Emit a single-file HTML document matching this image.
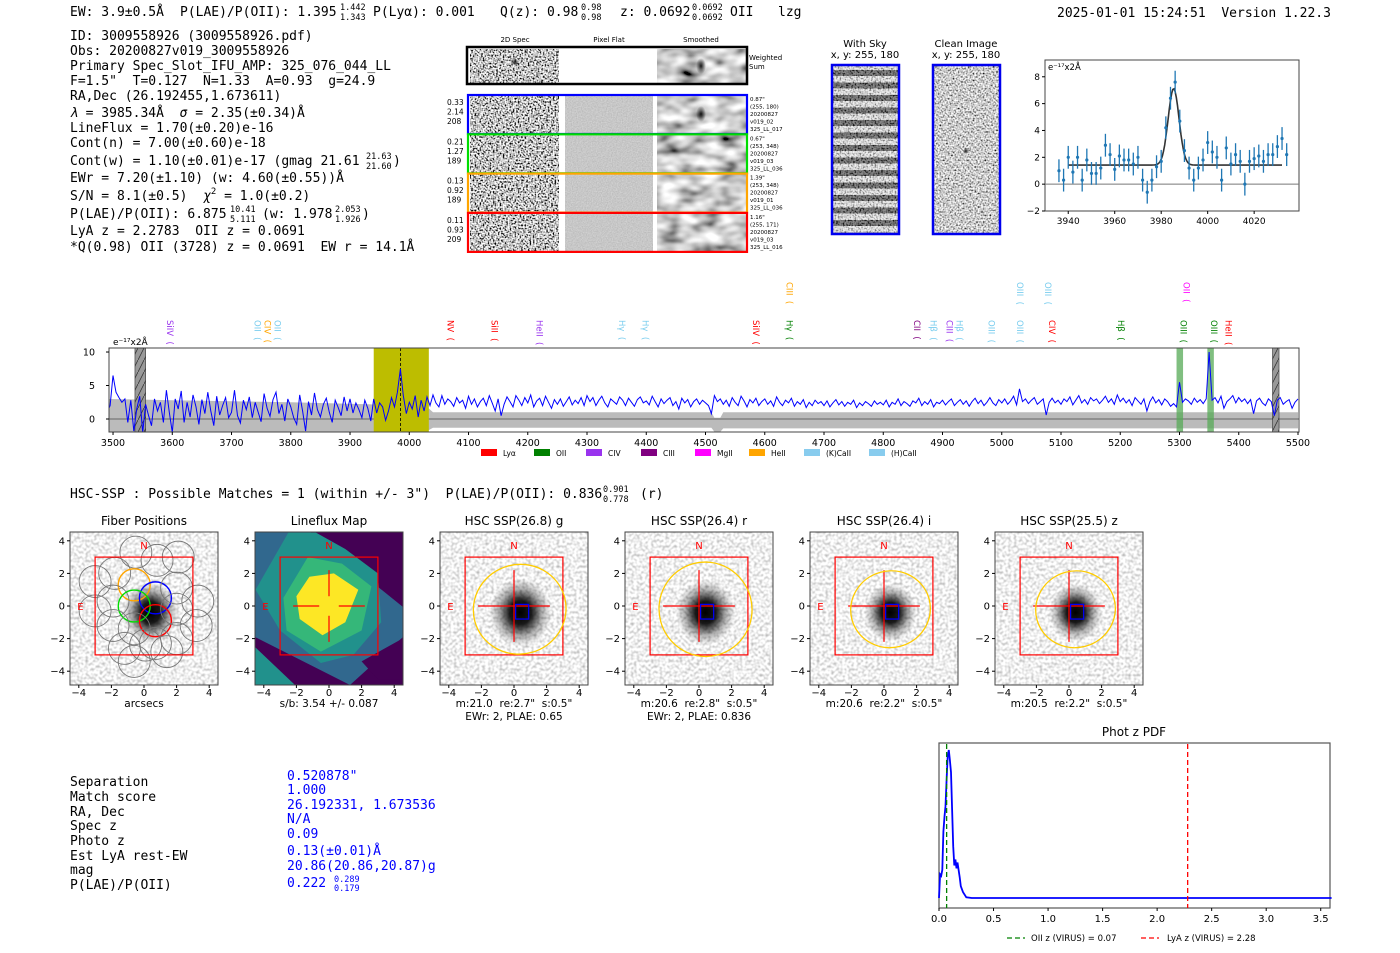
<!DOCTYPE html>
<html><head><meta charset="utf-8">
<style>
html,body{margin:0;padding:0;background:#fff;}
svg{display:block;}
#fig{font-size:13px;fill:#000;}
text{white-space:pre;}
.m{font-family:"DejaVu Sans Mono","Liberation Mono",monospace;}
.s{font-family:"DejaVu Sans","Liberation Sans",sans-serif;}
.b{fill:#0000ff;}
</style></head>
<body>
<svg id="fig" width="1400" height="953" viewBox="0 0 1400 953" xmlns="http://www.w3.org/2000/svg">
<defs>
  <filter id="nHi" x="0" y="0" width="100%" height="100%">
    <feTurbulence type="fractalNoise" baseFrequency="0.6" numOctaves="1" seed="3"/>
    <feColorMatrix type="matrix" values="3.2 0 0 0 -1.05  3.2 0 0 0 -1.05  3.2 0 0 0 -1.05  0 0 0 0 1"/>
  </filter>
  <filter id="nMid" x="0" y="0" width="100%" height="100%">
    <feTurbulence type="fractalNoise" baseFrequency="0.6" numOctaves="1" seed="7"/>
    <feColorMatrix type="matrix" values="2.2 0 0 0 -0.5  2.2 0 0 0 -0.5  2.2 0 0 0 -0.5  0 0 0 0 1"/>
  </filter>
  <filter id="nLo" x="0" y="0" width="100%" height="100%">
    <feTurbulence type="fractalNoise" baseFrequency="0.35" numOctaves="1" seed="11"/>
    <feColorMatrix type="matrix" values="1.2 0 0 0 0.27  1.2 0 0 0 0.27  1.2 0 0 0 0.27  0 0 0 0 1"/>
  </filter>
  <filter id="nSmooth" x="0" y="0" width="100%" height="100%">
    <feTurbulence type="fractalNoise" baseFrequency="0.05 0.09" numOctaves="2" seed="5"/>
    <feColorMatrix type="matrix" values="1.6 0 0 0 -0.2  1.6 0 0 0 -0.2  1.6 0 0 0 -0.2  0 0 0 0 1"/>
  </filter>
  <filter id="nFlat" x="0" y="0" width="100%" height="100%">
    <feTurbulence type="fractalNoise" baseFrequency="0.8" numOctaves="1" seed="2"/>
    <feColorMatrix type="matrix" values="0.3 0 0 0 0.42  0.3 0 0 0 0.42  0.3 0 0 0 0.42  0 0 0 0 1"/>
  </filter>
  <pattern id="stripes" x="832" y="65" width="67" height="12.5" patternUnits="userSpaceOnUse">
    <rect width="67" height="12.5" fill="#e4e4e4"/>
    <rect y="5" width="67" height="6" fill="#2a2a2a"/>
  </pattern>
  <radialGradient id="blob" cx="50%" cy="50%" r="50%">
    <stop offset="0" stop-color="#000" stop-opacity="1"/>
    <stop offset="0.35" stop-color="#000" stop-opacity="0.9"/>
    <stop offset="0.7" stop-color="#000" stop-opacity="0.3"/>
    <stop offset="1" stop-color="#000" stop-opacity="0"/>
  </radialGradient>
  <radialGradient id="dot" cx="50%" cy="50%" r="50%">
    <stop offset="0" stop-color="#000" stop-opacity="0.9"/>
    <stop offset="1" stop-color="#000" stop-opacity="0"/>
  </radialGradient>
  <pattern id="hatch" width="6" height="12" patternUnits="userSpaceOnUse">
    <rect width="6" height="12" fill="#999"/>
    <line x1="0" y1="12" x2="6" y2="0" stroke="#333" stroke-width="0.8"/>
  </pattern>
</defs>

<!-- top header -->
<g>
  <text class="m" x="70" y="16">EW: 3.9±0.5Å</text>
  <text class="m" x="180" y="16">P(LAE)/P(OII): 1.395</text>
  <text class="m" x="340" y="10" font-size="8.5">1.442</text>
  <text class="m" x="340" y="20" font-size="8.5">1.343</text>
  <text class="m" x="373" y="16">P(Lyα): 0.001</text>
  <text class="m" x="500" y="16">Q(z): 0.98</text>
  <text class="m" x="581" y="10" font-size="8.5">0.98</text>
  <text class="m" x="581" y="20" font-size="8.5">0.98</text>
  <text class="m" x="620" y="16">z: 0.0692</text>
  <text class="m" x="692" y="10" font-size="8.5">0.0692</text>
  <text class="m" x="692" y="20" font-size="8.5">0.0692</text>
  <text class="m" x="730" y="16">OII</text>
  <text class="m" x="778" y="16">lzg</text>
  <text class="m" x="1057" y="17">2025-01-01 15:24:51  Version 1.22.3</text>
</g>

<!-- left info block -->
<g>
  <text class="m" x="70" y="40">ID: 3009558926 (3009558926.pdf)</text>
  <text class="m" x="70" y="55">Obs: 20200827v019_3009558926</text>
  <text class="m" x="70" y="70">Primary Spec_Slot_IFU_AMP: 325_076_044_LL</text>
  <text class="m" x="70" y="85">F=1.5"  T=0.127  N=1.33  A=0.93  g=24.9</text>
  <text class="m" x="70" y="100">RA,Dec (26.192455,1.673611)</text>
  <text class="m" x="70" y="117"><tspan font-style="italic">λ</tspan> = 3985.34Å  <tspan font-style="italic">σ</tspan> = 2.35(±0.34)Å</text>
  <text class="m" x="70" y="132">LineFlux = 1.70(±0.20)e-16</text>
  <text class="m" x="70" y="147">Cont(n) = 7.00(±0.60)e-18</text>
  <text class="m" x="70" y="165">Cont(w) = 1.10(±0.01)e-17 (gmag 21.61</text>
  <text class="m" x="366" y="159" font-size="8.5">21.63</text>
  <text class="m" x="366" y="169" font-size="8.5">21.60</text>
  <text class="m" x="393" y="165">)</text>
  <text class="m" x="70" y="182">EWr = 7.20(±1.10) (w: 4.60(±0.55))Å</text>
  <text class="m" x="70" y="200">S/N = 8.1(±0.5)  <tspan font-style="italic">χ</tspan><tspan font-size="9" dy="-6">2</tspan><tspan dy="6"> = 1.0(±0.2)</tspan></text>
  <text class="m" x="70" y="218">P(LAE)/P(OII): 6.875</text>
  <text class="m" x="230" y="212" font-size="8.5">10.41</text>
  <text class="m" x="230" y="222" font-size="8.5">5.111</text>
  <text class="m" x="262" y="218">(w: 1.978</text>
  <text class="m" x="335" y="212" font-size="8.5">2.053</text>
  <text class="m" x="335" y="222" font-size="8.5">1.926</text>
  <text class="m" x="362" y="218">)</text>
  <text class="m" x="70" y="235">LyA z = 2.2783  OII z = 0.0691</text>
  <text class="m" x="70" y="251">*Q(0.98) OII (3728) z = 0.0691  EW r = 14.1Å</text>
</g>

<!-- 2D spectra -->
<g id="spec2d">
  <text class="s" x="515" y="42" font-size="7" text-anchor="middle">2D Spec</text>
  <text class="s" x="609" y="42" font-size="7" text-anchor="middle">Pixel Flat</text>
  <text class="s" x="701" y="42" font-size="7" text-anchor="middle">Smoothed</text>
  <rect x="470" y="49" width="89" height="34" filter="url(#nHi)"/>
  <circle cx="515" cy="62" r="4" fill="url(#dot)"/>
  <rect x="657" y="49" width="89" height="34" filter="url(#nSmooth)"/>
  <ellipse cx="701" cy="66" rx="5" ry="8" fill="url(#dot)"/>
  <rect x="467" y="47" width="280" height="37" fill="none" stroke="#000" stroke-width="2.5"/>
  <text class="s" x="749" y="60" font-size="7">Weighted</text>
  <text class="s" x="749" y="69" font-size="7">Sum</text>
</g>

<!-- with sky / clean -->
<g>
  <text class="s" x="865" y="47" font-size="10" text-anchor="middle">With Sky</text>
  <text class="s" x="865" y="58" font-size="10" text-anchor="middle">x, y: 255, 180</text>
  <rect x="832" y="65" width="67" height="169" fill="url(#stripes)"/>
  <rect x="832" y="65" width="67" height="169" filter="url(#nHi)" opacity="0.45"/>
  <rect x="832" y="65" width="67" height="169" fill="none" stroke="#0000ee" stroke-width="2.5"/>
  <text class="s" x="966" y="47" font-size="10" text-anchor="middle">Clean Image</text>
  <text class="s" x="966" y="58" font-size="10" text-anchor="middle">x, y: 255, 180</text>
  <rect x="933" y="65" width="67" height="169" filter="url(#nMid)"/>
  <circle cx="966" cy="151" r="3" fill="url(#dot)"/>
  <rect x="933" y="65" width="67" height="169" fill="none" stroke="#0000ee" stroke-width="2.5"/>
</g>

<g id="zoomplot"></g>
<g id="mainspec"></g>

<text class="m" x="70" y="498">HSC-SSP : Possible Matches = 1 (within +/- 3")  P(LAE)/P(OII): 0.836</text>
<text class="m" x="603" y="492" font-size="8.5">0.901</text>
<text class="m" x="603" y="502" font-size="8.5">0.778</text>
<text class="m" x="640" y="498">(r)</text>

<g id="cutouts"></g>

<!-- bottom table -->
<g>
  <text class="m" x="70" y="786">Separation</text>
  <text class="m" x="70" y="801">Match score</text>
  <text class="m" x="70" y="816">RA, Dec</text>
  <text class="m" x="70" y="830">Spec z</text>
  <text class="m" x="70" y="845">Photo z</text>
  <text class="m" x="70" y="860">Est LyA rest-EW</text>
  <text class="m" x="70" y="874">mag</text>
  <text class="m" x="70" y="889">P(LAE)/P(OII)</text>
  <text class="m b" x="287" y="780">0.520878"</text>
  <text class="m b" x="287" y="794">1.000</text>
  <text class="m b" x="287" y="809">26.192331, 1.673536</text>
  <text class="m b" x="287" y="823">N/A</text>
  <text class="m b" x="287" y="838">0.09</text>
  <text class="m b" x="287" y="855">0.13(±0.01)Å</text>
  <text class="m b" x="287" y="870">20.86(20.86,20.87)g</text>
  <text class="m b" x="287" y="887">0.222</text>
  <text class="m b" x="334" y="882" font-size="8.5">0.289</text>
  <text class="m b" x="334" y="891" font-size="8.5">0.179</text>
</g>

<g id="pdfplot"></g>
</svg>

<script>
// ================= DATA =================
const specStart = 3490;
const specStep = 5;
const specFlux = [
1.0,2.0,
6.5,4.0,3.2,2.5,3.0,-0.5,2.8,-1.8,1.5,3.4,-2.0,2.2,0.5,-1.0,3.0,1.2,2.5,-0.5,4.3,1.0,
-2.0,3.0,1.5,4.2,-0.5,2.5,0.3,3.6,1.8,-0.8,2.9,0.8,4.0,1.2,-1.0,3.4,0.6,2.0,3.2,0.2,
1.0,4.3,0.5,-0.6,2.8,1.4,3.3,0.2,2.5,1.0,-0.4,3.8,1.6,0.4,2.9,4.0,0.8,2.2,-0.3,3.0,
1.8,0.2,-0.8,3.6,1.2,-1.8,2.6,0.6,3.9,1.4,0.3,2.2,3.1,1.0,-0.5,2.8,1.7,0.5,3.3,1.2,
3.0,0.9,2.4,1.4,0.2,2.8,1.6,-0.3,3.0,0.9,2.4,1.8,-0.2,1.2,3.2,1.8,4.0,7.5,3.5,0.8,
2.5,1.5,3.5,0.3,2.8,1.2,3.3,2.0,3.6,2.4,1.8,3.5,2.2,3.0,2.6,1.9,3.2,2.4,2.8,1.6,
3.4,2.2,3.0,1.8,2.6,3.1,2.0,3.5,2.4,1.2,3.0,0.5,2.2,3.3,2.6,1.8,3.5,2.8,2.0,3.2,
2.4,3.6,1.8,2.7,3.1,2.0,3.4,2.5,1.6,2.9,2.2,3.0,1.9,2.6,3.3,2.1,2.8,2.3,3.2,2.0,
3.5,2.6,3.2,2.0,2.8,3.4,2.4,1.8,3.0,2.6,2.2,3.3,2.8,2.0,3.1,2.5,1.9,2.9,3.3,2.4,
2.7,2.1,3.4,2.6,1.8,3.0,2.3,2.8,3.2,2.0,2.6,1.5,3.1,2.4,2.9,1.8,2.6,3.0,2.2,2.8,
2.4,2.0,0.8,3.5,2.6,3.0,2.2,2.8,1.9,3.2,2.5,2.0,3.4,2.7,1.8,2.9,2.4,3.1,2.0,2.6,
3.0,2.2,2.7,1.9,3.3,2.5,2.0,2.8,2.4,3.1,1.9,2.6,2.2,2.9,1.7,2.5,2.0,2.8,2.3,2.6,
2.0,2.7,1.8,2.4,2.9,2.1,2.6,1.9,2.5,2.2,2.8,1.7,2.4,2.0,2.6,2.3,1.9,2.7,2.2,2.5,
2.1,2.8,1.8,2.5,2.2,3.0,2.0,2.6,2.3,1.9,2.7,2.4,3.1,2.0,2.6,2.2,2.9,1.8,2.5,2.3,
2.8,2.1,2.6,3.0,2.0,2.5,2.9,2.2,2.7,1.9,2.6,3.1,2.3,2.8,2.0,2.5,3.2,2.4,2.0,2.9,
2.4,3.0,2.2,2.7,3.4,2.1,4.5,2.6,3.0,2.3,2.8,3.2,2.2,2.6,3.0,0.6,2.5,3.1,2.4,2.8,
2.2,3.0,2.6,3.3,2.1,2.8,3.5,2.4,2.9,2.2,3.2,2.7,3.0,2.3,2.8,3.4,2.5,3.0,2.2,3.6,
2.6,3.1,2.4,2.9,2.0,3.2,2.7,2.2,3.0,1.2,2.6,3.3,2.4,2.9,2.1,3.0,2.6,1.9,2.3,1.8,
5.5,2.5,3.0,2.7,2.2,3.1,2.5,2.9,2.3,3.0,10.0,2.8,3.2,2.4,3.4,1.6,2.6,3.0,3.5,2.4,
3.2,2.6,3.0,2.3,2.9,0.8,2.7,3.1,2.4,2.0,3.0,2.6,0.5,2.8,3.2,2.2,2.6,2.9,1.6,2.5,
3.0];
const errWl = [3490,3600,3800,3930,4030,4040,4510,4515,4525,4530,5500];
const errHi = [3.0,2.8,2.5,2.2,1.8,1.0,1.0,0.2,0.2,1.0,1.0];
const errLo = [-1.9,-1.9,-1.9,-1.9,-1.8,-1.3,-1.3,-1.9,-1.9,-1.4,-1.4];
const specXTicks = [3500,3600,3700,3800,3900,4000,4100,4200,4300,4400,4500,4600,4700,4800,4900,5000,5100,5200,5300,5400,5500];
const specYTicks = [0,5,10];
const lineWl = [3596,3744,3761,3778,4070,4144,4220,4359,4399,4585,4642,4642,4857,4885,4912,4929,4983,5031,5031,5078,5085,5201,5307,5312,5358,5383];
const lineName = ["SiIV","OII","CIV","OII","NV","SiII","HeII","Hγ","Hγ","SiIV","CIII","Hγ","CII","Hβ","CIII","Hβ","OIII","OIII","OIII","OIII","CIV","Hβ","OIII","OII","OIII","HeII"];
const lineColor = ["#9933ee","#77ccee","#ffa500","#77ccee","#ff0000","#ff0000","#9933ee","#77ccee","#77ccee","#ff0000","#ffa500","#008000","#800080","#77ccee","#9933ee","#77ccee","#77ccee","#77ccee","#77ccee","#77ccee","#ff0000","#008000","#008000","#ff00ff","#008000","#ff0000"];
const lineRow = [0,0,0,0,0,0,0,0,0,0,1,0,0,0,0,0,0,0,1,1,0,0,0,1,0,0];
const legendNames = ["Lyα","OII","CIV","CIII","MgII","HeII","(K)CaII","(H)CaII"];
const legendColors = ["#ff0000","#008000","#9933ee","#800080","#ff00ff","#ffa500","#88ccee","#88ccee"];

const zWl = [3936,3938,3940,3942,3944,3946,3948,3950,3952,3954,3956,3958,3960,3962,3964,3966,3968,3970,3972,3974,3976,3978,3980,3982,3984,3986,3988,3990,3992,3994,3996,3998,4000,4002,4004,4006,4008,4010,4012,4014,4016,4018,4020,4022,4024,4026,4028,4030,4032,4034];
const zFlux = [1.0,0.3,2.0,0.9,2.0,0.3,1.8,0.8,0.8,1.2,2.9,2.2,1.1,2.1,1.8,1.8,1.5,2.0,0.3,-0.6,0.3,1.3,1.7,4.2,6.4,7.6,4.7,2.5,1.2,0.3,1.2,1.8,3.1,2.4,2.0,0.3,2.7,1.5,2.2,1.7,0.0,1.7,1.9,2.1,1.7,2.2,2.2,2.8,3.4,2.2];
const zErr = 0.85;
const fitCont = 1.42, fitAmp = 5.7, fitMu = 3985.34, fitSigma = 2.35;
const zXTicks = [3940,3960,3980,4000,4020];
const zYTicks = [-2,0,2,4,6,8];

const pdfZ = [0,0.01,0.02,0.03,0.04,0.05,0.06,0.07,0.08,0.09,0.1,0.11,0.12,0.13,0.14,0.15,0.16,0.17,0.18,0.19,0.2,0.22,0.25,0.3,1.0,2.0,3.0,3.6];
const pdfP = [0.0,0.16,0.15,0.19,0.45,0.55,0.62,0.8,0.96,1.0,0.93,0.85,0.6,0.35,0.22,0.26,0.2,0.24,0.19,0.14,0.08,0.04,0.005,0.0,0.0,0.0,0.0,0.0];
const pdfTicks = [0.0,0.5,1.0,1.5,2.0,2.5,3.0,3.5];
const oiiZ = 0.07, lyaZ = 2.28;

const rowColors = ["#0000ff","#00dd00","#ffa500","#ff0000"];
const rowNums = [["0.33","2.14","208"],["0.21","1.27","189"],["0.13","0.92","189"],["0.11","0.93","209"]];
const rowInfo = [["0.87\"","(255, 180)","20200827","v019_02","325_LL_017"],["0.67\"","(253, 348)","20200827","v019_03","325_LL_036"],["1.39\"","(253, 348)","20200827","v019_01","325_LL_036"],["1.16\"","(255, 171)","20200827","v019_03","325_LL_016"]];

const cutTitles = ["Fiber Positions","Lineflux Map","HSC SSP(26.8) g","HSC SSP(26.4) r","HSC SSP(26.4) i","HSC SSP(25.5) z"];
const cutSub1 = ["arcsecs","s/b: 3.54 +/- 0.087","m:21.0  re:2.7\"  s:0.5\"","m:20.6  re:2.8\"  s:0.5\"","m:20.6  re:2.2\"  s:0.5\"","m:20.5  re:2.2\"  s:0.5\""];
const cutSub2 = ["","","EWr: 2, PLAE: 0.65","EWr: 2, PLAE: 0.836","",""];
const blobSize = [1.7,0,1.9,1.8,1.6,1.6];
const ellCx = [0,0,0.35,0.4,0.4,0.4];
const ellCy = [0,0,-0.2,-0.2,-0.2,-0.2];
const ellRx = [0,0,2.85,2.85,2.45,2.45];
const ellRy = [0,0,2.75,2.9,2.35,2.35];
const cutTicks = [-4,-2,0,2,4];
const fiberX = [-0.5,0.8,2.1,-1.8,-0.6,0.7,2.0,3.3,-3.0,-1.9,-0.6,0.7,2.0,3.2,-1.9,-0.6,0.7,2.0,-1.2,0.1,1.4,-0.6,-3.0];
const fiberY = [3.3,2.8,3.0,2.0,1.3,0.5,1.1,0.3,1.5,0.3,0.0,-0.9,-0.2,-1.2,-1.2,-1.4,-2.3,-2.0,-2.6,-2.4,-2.8,-3.4,-0.3];
const fiberCol = ["#777","#777","#777","#777","#ffa500","#0000ff","#777","#777","#777","#777","#00dd00","#ff0000","#777","#777","#777","#777","#777","#777","#777","#777","#777","#777","#777"];

// ================= HELPERS =================
const NS = "http://www.w3.org/2000/svg";
function mk(parent, tag, attrs, text){
  const e = document.createElementNS(NS, tag);
  for (const k in attrs) e.setAttribute(k, attrs[k]);
  if (text !== undefined) e.textContent = text;
  parent.appendChild(e);
  return e;
}
let el;

// ================= 2D SPEC ROWS =================
const s2 = document.getElementById('spec2d');
rowColors.forEach((c, i) => {
  const y0 = 95 + i*39.3;
  el = mk(s2, 'rect', {x:470, y:y0+1, width:89, height:37, filter:'url(#nHi)'});
  
  
  el = mk(s2, 'rect', {x:565, y:y0+1, width:88, height:37, filter:'url(#nFlat)'});
  
  
  el = mk(s2, 'rect', {x:657, y:y0+1, width:89, height:37, filter:'url(#nSmooth)'});
  
  
  if (i === 0) { mk(s2, 'ellipse', {cx:701, cy:y0+19, rx:5, ry:8, fill:'url(#dot)'}); }
  el = mk(s2, 'rect', {x:468, y:y0, width:279, height:39, fill:'none', stroke:c, 'stroke-width':2.2});
  
  
  rowNums[i].forEach((t, j) => {
    el = mk(s2, 'text', {x:447, y:y0+10+j*9.5, class:'s', 'font-size':7.5}, t);
    
    
  });
  rowInfo[i].forEach((t, j) => {
    el = mk(s2, 'text', {x:750, y:y0+6+j*7.5, class:'s', 'font-size':5.5}, t);
    
    
  });
});

// ================= ZOOM PLOT =================
const zp = document.getElementById('zoomplot');
const zL = 1045, zR = 1299, zT = 60, zB = 211;
const zx0 = 3930, zx1 = 4039.3, zy0 = -2, zy1 = 9.25;
const zX = v => zL + (v - zx0) / (zx1 - zx0) * (zR - zL);
const zY = v => zB - (v - zy0) / (zy1 - zy0) * (zB - zT);
el = mk(zp, 'rect', {x:zL, y:zT, width:zR-zL, height:zB-zT, fill:'#fff', stroke:'#444', 'stroke-width':1});


el = mk(zp, 'line', {x1:zL, x2:zR, y1:zY(0), y2:zY(0), stroke:'#777', 'stroke-width':1});


zXTicks.forEach(t => {
  mk(zp, 'line', {x1:zX(t), x2:zX(t), y1:zB, y2:zB+3, stroke:'#000'});
  el = mk(zp, 'text', {x:zX(t), y:zB+13, class:'s', 'font-size':9, 'text-anchor':'middle'}, t);
  
  
});
zYTicks.forEach(t => {
  mk(zp, 'line', {x1:zL-3, x2:zL, y1:zY(t), y2:zY(t), stroke:'#000'});
  el = mk(zp, 'text', {x:zL-5, y:zY(t)+3, class:'s', 'font-size':9, 'text-anchor':'end'}, t < 0 ? '−' + (-t) : t);
  
  
});
el = mk(zp, 'text', {x:zL+3, y:zT+10, class:'s', 'font-size':8.5}, 'e⁻¹⁷x2Å');


let fd = '';
for (let w = 3940; w <= 4032; w += 0.5) {
  const f = fitCont + fitAmp * Math.exp(-0.5 * Math.pow((w - fitMu) / fitSigma, 2));
  fd += (fd ? 'L' : 'M') + zX(w).toFixed(1) + ' ' + zY(f).toFixed(1);
}
el = mk(zp, 'path', {d:fd, fill:'none', stroke:'#333', 'stroke-width':1.6});


zWl.forEach((w, i) => {
  el = mk(zp, 'line', {x1:zX(w), x2:zX(w), y1:zY(zFlux[i]-zErr), y2:zY(zFlux[i]+zErr), stroke:'#1f77b4', 'stroke-width':1.3});
  
  
  el = mk(zp, 'circle', {cx:zX(w), cy:zY(zFlux[i]), r:1.6, fill:'#1f77b4'});
  
  
});

// ================= MAIN SPECTRUM =================
const ms = document.getElementById('mainspec');
const mL = 109, mR = 1299, mT = 348, mB = 432;
const mx0 = 3493.2, mx1 = 5501.7, my0 = -1.94, my1 = 10.6;
const mX = v => mL + (v - mx0) / (mx1 - mx0) * (mR - mL);
const mY = v => mB - (v - my0) / (my1 - my0) * (mB - mT);
mk(ms, 'clipPath', {id:'mclip'});
mk(document.getElementById('mclip'), 'rect', {x:mL, y:mT, width:mR-mL, height:mB-mT});
const mg = mk(ms, 'g', {'clip-path':'url(#mclip)'});
let ed = '';
errWl.forEach((w, i) => { ed += (i ? 'L' : 'M') + mX(w).toFixed(1) + ' ' + mY(errHi[i]).toFixed(1); });
for (let i = errWl.length - 1; i >= 0; i--) ed += 'L' + mX(errWl[i]).toFixed(1) + ' ' + mY(errLo[i]).toFixed(1);
el = mk(mg, 'path', {d:ed+'Z', fill:'#bbbbbb'});


el = mk(mg, 'line', {x1:mL, x2:mR, y1:mY(0), y2:mY(0), stroke:'#666', 'stroke-width':1});


el = mk(mg, 'rect', {x:mX(3940), y:mT, width:mX(4033)-mX(3940), height:mB-mT, fill:'#bdbd00'});


[[3537,3555],[5457,5468]].forEach(b => {
  el = mk(mg, 'rect', {x:mX(b[0]), y:mT, width:mX(b[1])-mX(b[0]), height:mB-mT, fill:'url(#hatch)', stroke:'#333', 'stroke-width':0.6});
  
  
});
[[5295,5306],[5347,5358]].forEach(b => {
  el = mk(mg, 'rect', {x:mX(b[0]), y:mT, width:mX(b[1])-mX(b[0]), height:mB-mT, fill:'#55aa55', opacity:0.75});
  
  
});
el = mk(mg, 'line', {x1:mX(3985.3), x2:mX(3985.3), y1:mT, y2:mB, stroke:'#000', 'stroke-dasharray':'3,2', 'stroke-width':0.8});


let sd = '';
specFlux.forEach((f, i) => { sd += (i ? 'L' : 'M') + mX(specStart + i*specStep).toFixed(1) + ' ' + mY(f).toFixed(1); });
el = mk(mg, 'path', {d:sd, fill:'none', stroke:'#0000ff', 'stroke-width':1});


el = mk(ms, 'rect', {x:mL, y:mT, width:mR-mL, height:mB-mT, fill:'none', stroke:'#444', 'stroke-width':1});


specXTicks.forEach(t => {
  mk(ms, 'line', {x1:mX(t), x2:mX(t), y1:mB, y2:mB+3, stroke:'#000'});
  el = mk(ms, 'text', {x:mX(t), y:mB+14, class:'s', 'font-size':9.5, 'text-anchor':'middle'}, t);
  
  
});
specYTicks.forEach(t => {
  mk(ms, 'line', {x1:mL-3, x2:mL, y1:mY(t), y2:mY(t), stroke:'#000'});
  el = mk(ms, 'text', {x:mL-14, y:mY(t)+3.5, class:'s', 'font-size':9.5, 'text-anchor':'end'}, t);
  
  
});
el = mk(ms, 'text', {x:113, y:345, class:'s', 'font-size':9}, 'e⁻¹⁷x2Å');


lineWl.forEach((w, i) => {
  const x = mX(w), y = lineRow[i] ? 282 : 320;
  el = mk(ms, 'text', {x:0, y:0, class:'s', 'font-size':8.5, fill:lineColor[i], transform:'translate('+(x-3)+','+y+') rotate(90)'}, lineName[i] + '  (');
  
  
});
legendNames.forEach((n, i) => {
  const lx = [481,534,586,641,695,749,804,869][i];
  el = mk(ms, 'rect', {x:lx, y:449, width:16, height:7, fill:legendColors[i]});
  
  
  el = mk(ms, 'text', {x:lx+22, y:456, class:'s', 'font-size':7.5}, n);
  
  
});

// ================= CUTOUTS =================
const co = document.getElementById('cutouts');
const sc = 16.3;
cutTitles.forEach((title, i) => {
  const cx = 144 + 185*i, cy = 606;
  const L = cx - 74, T = 532, W = 148, H = 153;
  const P = u => cx + u*sc, Q = v => cy - v*sc;
  const g = mk(co, 'g', {});
  
  
  const cid = 'cc' + i;
  mk(g, 'clipPath', {id:cid});
  mk(document.getElementById(cid), 'rect', {x:L, y:T, width:W, height:H});
  const ig = mk(g, 'g', {'clip-path':'url(#'+cid+')'});
  const poly = pts => pts.map(p => p[0].toFixed(1)+','+p[1].toFixed(1)).join(' ');
  if (i === 1) {
    mk(ig, 'rect', {x:L, y:T, width:W, height:H, fill:'#440154'});
    mk(ig, 'polygon', {points:poly([[L,T],[L+55,T],[L+W,T+75],[L+W,T+105],[L+95,T+H],[L,T+105]]), fill:'#31688e'});
    mk(ig, 'polygon', {points:poly([[P(-2.5),Q(4.5)],[P(-0.8),Q(4.5)],[P(1),Q(3.5)],[P(3),Q(2)],[P(3.2),Q(-1)],[P(1.5),Q(-3)],[P(-0.5),Q(-3.5)],[P(-3),Q(-1.5)],[P(-4.5),Q(1)]]), fill:'#21918c'});
    mk(ig, 'polygon', {points:poly([[P(-1.3),Q(3)],[P(0.8),Q(2.6)],[P(2.6),Q(1.2)],[P(2),Q(-1.5)],[P(-0.5),Q(-2.8)],[P(-2.6),Q(-1.5)],[P(-2.8),Q(0.5)]]), fill:'#35b779'});
    mk(ig, 'polygon', {points:poly([[P(-1.2),Q(1.8)],[P(0.3),Q(2.0)],[P(1.8),Q(1.0)],[P(1.0),Q(-1.0)],[P(-0.4),Q(-1.8)],[P(-1.8),Q(-0.8)],[P(-2),Q(0.6)]]), fill:'#fde725'});
    mk(ig, 'polygon', {points:poly([[L,T+115],[L+40,T+H],[L,T+H]]), fill:'#21918c'});
    mk(ig, 'polygon', {points:poly([[P(2),Q(-3.4)],[P(4.5),Q(-2)],[P(4.5),Q(-4.5)],[P(3),Q(-4.5)]]), fill:'#440154'});
  } else {
    el = mk(ig, 'rect', {x:L, y:T, width:W, height:H, filter:'url(#nLo)'});
    
    
    const r = blobSize[i]*sc;
    el = mk(ig, 'ellipse', {cx:P(0.4), cy:Q(-0.4), rx:r, ry:r*1.1, fill:'url(#blob)'});
    
    
  }
  el = mk(g, 'rect', {x:L, y:T, width:W, height:H, fill:'none', stroke:'#444', 'stroke-width':1});
  
  
  if (i === 0) {
    fiberX.forEach((fx, k) => {
      el = mk(g, 'circle', {cx:P(fx), cy:Q(fiberY[k]), r:sc*0.98, fill:'none', stroke:fiberCol[k], 'stroke-width':fiberCol[k]==='#777'?0.9:1.4});
      
      
    });
  }
  el = mk(g, 'rect', {x:P(-3), y:Q(3), width:6*sc, height:6*sc, fill:'none', stroke:'#ff0000', 'stroke-width':1.2});
  
  
  if (i >= 1) {
    const gap = i === 1 ? 0.6 : 0;
    [[-2.2,-gap],[gap,2.2]].forEach(s => { mk(g, 'line', {x1:P(s[0]), x2:P(s[1]), y1:Q(0), y2:Q(0), stroke:'#ff0000', 'stroke-width':1.2}); });
    [[-2.2,-gap],[gap,2.2]].forEach(s => { mk(g, 'line', {x1:P(0), x2:P(0), y1:Q(s[0]), y2:Q(s[1]), stroke:'#ff0000', 'stroke-width':1.2}); });
  }
  if (i >= 2) {
    el = mk(g, 'ellipse', {cx:P(ellCx[i]), cy:Q(ellCy[i]), rx:ellRx[i]*sc, ry:ellRy[i]*sc, fill:'none', stroke:'#ffcc00', 'stroke-width':1.3, transform:'rotate(-15 '+P(ellCx[i])+' '+Q(ellCy[i])+')'});
    
    
    el = mk(g, 'rect', {x:P(0.1), y:Q(0.1), width:0.8*sc, height:0.9*sc, fill:'none', stroke:'#0000ff', 'stroke-width':1.2});
    
    
  }
  el = mk(g, 'text', {x:P(0), y:Q(3.75)+4, class:'s', 'font-size':10, fill:'#ff0000', 'text-anchor':'middle'}, 'N');
  
  
  el = mk(g, 'text', {x:P(-3.9), y:Q(0)+4, class:'s', 'font-size':10, fill:'#ff0000', 'text-anchor':'middle'}, 'E');
  
  
  el = mk(g, 'text', {x:cx, y:525, class:'s', 'font-size':12, 'text-anchor':'middle'}, title);
  
  
  cutTicks.forEach(t => {
    const lab = t < 0 ? '−' + (-t) : '' + t;
    mk(g, 'line', {x1:P(t), x2:P(t), y1:T+H, y2:T+H+3, stroke:'#000'});
    el = mk(g, 'text', {x:P(t), y:696, class:'s', 'font-size':10, 'text-anchor':'middle'}, lab);
    
    
    mk(g, 'line', {x1:L-3, x2:L, y1:Q(t), y2:Q(t), stroke:'#000'});
    el = mk(g, 'text', {x:L-5, y:Q(t)+3.5, class:'s', 'font-size':10, 'text-anchor':'end'}, lab);
    
    
  });
  el = mk(g, 'text', {x:cx, y:707, class:'s', 'font-size':10.5, 'text-anchor':'middle'}, cutSub1[i]);
  
  
  if (cutSub2[i]) {
    el = mk(g, 'text', {x:cx, y:720, class:'s', 'font-size':10.5, 'text-anchor':'middle'}, cutSub2[i]);
    
    
  }
});

// ================= PHOT Z PDF =================
const pp = document.getElementById('pdfplot');
const pL = 939, pR = 1330, pT = 743, pB = 908;
const pX = v => pL + v / 3.585 * (pR - pL);
const pY = v => 898 - v * 148;
el = mk(pp, 'rect', {x:pL, y:pT, width:pR-pL, height:pB-pT, fill:'#fff', stroke:'#555', 'stroke-width':1.2});


el = mk(pp, 'text', {x:1134, y:736, class:'s', 'font-size':12, 'text-anchor':'middle'}, 'Phot z PDF');


pdfTicks.forEach(t => {
  mk(pp, 'line', {x1:pX(t), x2:pX(t), y1:pB, y2:pB+3, stroke:'#000'});
  el = mk(pp, 'text', {x:pX(t), y:pB+14, class:'s', 'font-size':10, 'text-anchor':'middle'}, t.toFixed(1));
  
  
});
let pd = '';
pdfZ.forEach((z, i) => { pd += (i ? 'L' : 'M') + pX(z).toFixed(1) + ' ' + pY(pdfP[i]).toFixed(1); });
el = mk(pp, 'path', {d:pd, fill:'none', stroke:'#0000ff', 'stroke-width':1.8});


el = mk(pp, 'line', {x1:pX(oiiZ), x2:pX(oiiZ), y1:pT+1, y2:pB, stroke:'#008000', 'stroke-width':1.3, 'stroke-dasharray':'5,3'});


el = mk(pp, 'line', {x1:pX(lyaZ), x2:pX(lyaZ), y1:pT+1, y2:pB, stroke:'#ff0000', 'stroke-width':1.3, 'stroke-dasharray':'5,3'});


el = mk(pp, 'line', {x1:1007, x2:1025, y1:938, y2:938, stroke:'#008000', 'stroke-width':1.3, 'stroke-dasharray':'5,3'});


el = mk(pp, 'text', {x:1031, y:941, class:'s', 'font-size':8.5}, 'OII z (VIRUS) = 0.07');


el = mk(pp, 'line', {x1:1141, x2:1159, y1:938, y2:938, stroke:'#ff0000', 'stroke-width':1.3, 'stroke-dasharray':'5,3'});


el = mk(pp, 'text', {x:1167, y:941, class:'s', 'font-size':8.5}, 'LyA z (VIRUS) = 2.28');


</script>
</body></html>
